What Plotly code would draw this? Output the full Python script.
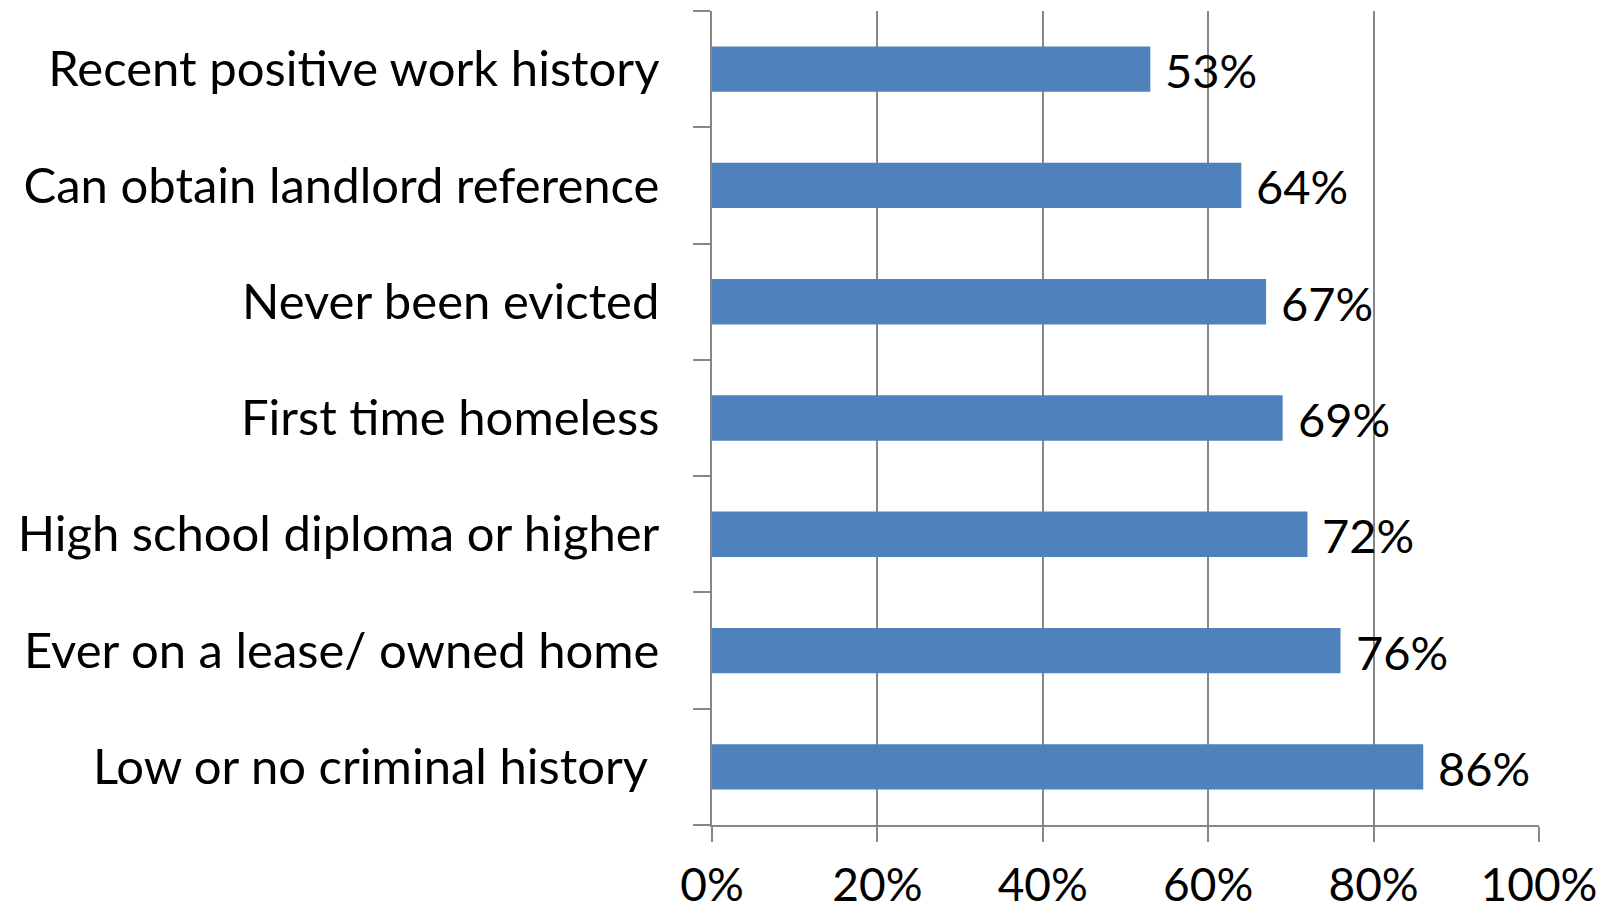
import plotly.graph_objects as go

categories = [
    "Low or no criminal history\u00a0",
    "Ever on a lease/ owned home",
    "High school diploma or higher",
    "First time homeless",
    "Never been evicted",
    "Can obtain landlord reference",
    "Recent positive work history",
]
values = [86, 76, 72, 69, 67, 64, 53]
x_ticks = [0, 20, 40, 60, 80, 100]
x_tick_labels = ["0%", "20%", "40%", "60%", "80%", "100%"]

FONT = "Lato"
FS_CAT = 49
FS_NUM = 47
FS_XTICK = 46
GRID = "#878787"

fig = go.Figure()
fig.add_trace(go.Bar(
    x=values, y=categories, orientation="h",
    marker=dict(color="#4F81BD", line=dict(width=0)),
    hoverinfo="skip",
))

for v, c in zip(values, categories):
    fig.add_annotation(x=v, y=c, text=f"{v}%", showarrow=False,
                       xanchor="left", yanchor="middle", xshift=13, yshift=-1,
                       font=dict(family=FONT, size=FS_NUM, color="#000000"))

fig.update_layout(
    width=1615, height=914,
    margin=dict(l=712, r=76, t=11, b=89, autoexpand=False),
    paper_bgcolor="white", plot_bgcolor="white",
    bargap=0.61,
    showlegend=False,
    font=dict(family=FONT, size=FS_NUM, color="#000000"),
)
fig.update_xaxes(
    range=[0, 100], tickvals=x_ticks, ticktext=x_tick_labels,
    showgrid=True, gridcolor=GRID, gridwidth=1.5,
    showline=True, linecolor=GRID, linewidth=1.5,
    ticks="outside", ticklen=15, tickcolor=GRID, tickwidth=1.5,
    ticklabelstandoff=4, automargin=False,
    zeroline=False, mirror=False,
    tickfont=dict(family=FONT, size=FS_XTICK, color="#000000"),
)
fig.update_yaxes(
    categoryorder="array", categoryarray=categories,
    showline=True, linecolor=GRID, linewidth=1.5,
    ticks="outside", ticklen=17, tickcolor=GRID, tickwidth=1.5,
    tickson="boundaries", showgrid=False,
    ticklabelstandoff=41, automargin=False,
    tickfont=dict(family=FONT, size=FS_CAT, color="#000000"),
)

fig.write_html(
    "out.html",
    config={"displayModeBar": False},
    post_script="document.body.style.margin='0';document.body.style.overflow='hidden';",
)
